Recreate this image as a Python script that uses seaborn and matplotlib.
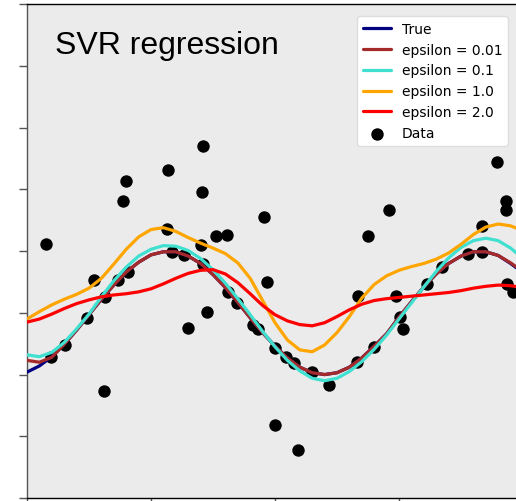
import numpy as np
import pandas as pd
import matplotlib
matplotlib.use("Agg")
import matplotlib.pyplot as plt
import seaborn as sns

# Sample positions of the fitted curves
grid_x = [5.0, 5.25, 5.5, 5.75, 6.0, 6.25, 6.5, 6.75, 7.0, 7.25, 7.5, 7.75,
          8.0, 8.25, 8.5, 8.75, 9.0, 9.25, 9.5, 9.75, 10.0, 10.25, 10.5, 10.75,
          11.0, 11.25, 11.5, 11.75, 12.0, 12.25, 12.5, 12.75, 13.0, 13.25,
          13.5, 13.75, 14.0, 14.25, 14.5, 14.75, 15.0]

true_y = [-0.96, -0.86, -0.71, -0.51, -0.28, -0.03, 0.22, 0.45, 0.66, 0.82,
          0.94, 0.99, 0.99, 0.92, 0.80, 0.62, 0.41, 0.17, -0.08, -0.32, -0.54,
          -0.73, -0.88, -0.97, -1.00, -0.97, -0.88, -0.73, -0.54, -0.34, -0.07,
          0.18, 0.42, 0.63, 0.80, 0.92, 0.99, 0.99, 0.93, 0.80, 0.65]

eps001_y = [-0.77, -0.80, -0.72, -0.51, -0.28, -0.03, 0.22, 0.45, 0.66, 0.82,
            0.94, 0.99, 0.99, 0.92, 0.80, 0.62, 0.41, 0.17, -0.08, -0.32, -0.54,
            -0.73, -0.88, -0.97, -1.00, -0.97, -0.88, -0.73, -0.54, -0.34, -0.07,
            0.18, 0.42, 0.63, 0.80, 0.92, 0.99, 0.99, 0.93, 0.81, 0.67]

eps01_y = [-0.68, -0.71, -0.64, -0.48, -0.26, -0.02, 0.26, 0.52, 0.74, 0.92,
           1.03, 1.09, 1.08, 1.01, 0.88, 0.70, 0.48, 0.23, -0.03, -0.30, -0.55,
           -0.77, -0.94, -1.06, -1.10, -1.06, -0.95, -0.79, -0.59, -0.36, -0.10,
           0.16, 0.42, 0.67, 0.89, 1.06, 1.17, 1.21, 1.17, 1.05, 0.88]

eps1_y = [-0.10, 0.02, 0.13, 0.22, 0.30, 0.40, 0.56, 0.79, 1.03, 1.23, 1.35,
          1.38, 1.32, 1.22, 1.13, 1.05, 0.96, 0.81, 0.56, 0.20, -0.16, -0.44,
          -0.60, -0.63, -0.52, -0.32, -0.06, 0.24, 0.46, 0.60, 0.69, 0.75, 0.80,
          0.87, 0.97, 1.11, 1.27, 1.39, 1.44, 1.41, 1.33]

eps2_y = [-0.15, -0.10, -0.02, 0.07, 0.15, 0.21, 0.26, 0.29, 0.31, 0.34, 0.39,
          0.47, 0.56, 0.64, 0.69, 0.70, 0.63, 0.49, 0.31, 0.12, -0.03, -0.13,
          -0.19, -0.21, -0.16, -0.06, 0.05, 0.14, 0.20, 0.23, 0.25, 0.27, 0.29,
          0.31, 0.33, 0.36, 0.40, 0.43, 0.45, 0.44, 0.41]

# Observations
data_x = [5.38, 5.48, 5.77, 6.21, 6.35, 6.57, 6.55, 6.84, 7.04, 6.94, 7.00,
          7.84, 7.82, 7.92, 8.17, 8.55, 8.53, 8.51, 8.81, 9.03, 8.25, 8.63,
          8.55, 9.05, 9.23, 9.56, 9.66, 9.78, 9.84, 10.00, 10.22, 10.38, 10.75,
          11.09, 10.00, 10.46, 11.65, 12.00, 11.67, 11.88, 12.30, 12.44, 12.52,
          12.58, 13.07, 13.37, 13.89, 14.17, 14.17, 14.48, 14.66, 14.66, 14.68,
          14.80]
data_y = [1.12, -0.71, -0.52, -0.08, 0.54, 0.26, -1.26, 0.54, 0.67, 1.82, 2.14,
          2.32, 1.36, 0.99, 0.94, 2.71, 1.96, 1.10, 1.25, 1.26, -0.24, 0.02,
          0.79, 0.34, 0.16, -0.19, -0.26, 1.56, 0.50, -0.57, -0.71, -0.81, -0.96,
          -1.17, -1.82, -2.22, -0.79, -0.55, 0.28, 1.25, 1.67, 0.28, -0.07,
          -0.26, 0.47, 0.75, 0.96, 0.99, 1.41, 2.45, 1.82, 1.67, 0.47, 0.34]

series = [
    ("True", true_y, "navy"),
    ("epsilon = 0.01", eps001_y, "brown"),
    ("epsilon = 0.1", eps01_y, "turquoise"),
    ("epsilon = 1.0", eps1_y, "orange"),
    ("epsilon = 2.0", eps2_y, "red"),
]

sns.set_style("white", {"axes.facecolor": "#ebebeb", "axes.edgecolor": "black",
                        "text.color": "black"})
plt.rcParams["font.family"] = ["DejaVu Sans"]

W, H = 516, 502
fig = plt.figure(figsize=(W / 100, H / 100), dpi=100)
ax_left, ax_right, ax_top, ax_bottom = 27, 523, 5.3, 499
ax = fig.add_axes([ax_left / W, (H - ax_bottom) / H,
                   (ax_right - ax_left) / W, (ax_bottom - ax_top) / H])

for label, vals, color in series:
    df = pd.DataFrame({"x": grid_x, "y": vals})
    sns.lineplot(data=df, x="x", y="y", color=color, linewidth=2.3,
                 label=label, estimator=None, sort=False, ax=ax, zorder=3)

pts = pd.DataFrame({"x": data_x, "y": data_y})
sns.scatterplot(data=pts, x="x", y="y", color="black", s=80, linewidth=0,
                label="Data", ax=ax, zorder=2)

ax.set_xlim(5, 15)
ax.set_ylim(-3, 5)
ax.set_xticks([5, 7.5, 10, 12.5, 15])
ax.set_yticks(np.arange(-3, 6, 1))
ax.tick_params(axis="both", direction="out", length=6, width=1,
               color="#555555", labelleft=False, labelbottom=False,
               left=True, bottom=True)
ax.set_xlabel("")
ax.set_ylabel("")
for side in ["left", "top", "bottom", "right"]:
    ax.spines[side].set_linewidth(1.0)
ax.spines["left"].set_color("#555555")

ax.text((55 - ax_left) / (ax_right - ax_left),
        (ax_bottom - 54) / (ax_bottom - ax_top),
        "SVR regression", transform=ax.transAxes, fontsize=23, color="black",
        family=["Liberation Sans", "DejaVu Sans"], va="baseline", ha="left")

leg = ax.legend(loc="upper right", bbox_to_anchor=(508 / W, 1 - 17 / H),
                bbox_transform=fig.transFigure, borderaxespad=0,
                fontsize=10, frameon=True, fancybox=True, framealpha=1)
leg.get_frame().set_facecolor("white")
leg.get_frame().set_edgecolor("#dddddd")
for t in leg.get_texts():
    t.set_color("black")

fig.savefig("out.png", dpi=100)
